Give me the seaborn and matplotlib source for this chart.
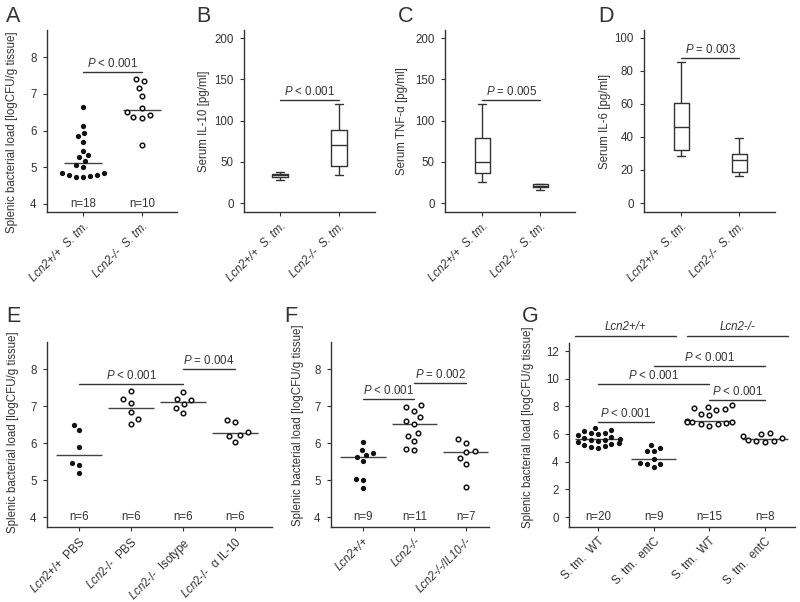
import numpy as np
import pandas as pd
import matplotlib
matplotlib.use("Agg")
import matplotlib.pyplot as plt
import seaborn as sns

sns.set_style("ticks")
plt.rcParams['font.family'] = ['Liberation Sans', 'DejaVu Sans']
plt.rcParams.update({
    'font.size': 8.3,
    'text.color': '#333333',
    'axes.labelcolor': '#333333',
    'axes.edgecolor': '#333333',
    'axes.linewidth': 1.0,
    'xtick.color': '#333333',
    'ytick.color': '#333333',
    'xtick.major.size': 3,
    'ytick.major.size': 3,
    'xtick.major.pad': 3,
    'ytick.major.pad': 4.5,
    'mathtext.fontset': 'custom',
    'mathtext.rm': 'Liberation Sans',
    'mathtext.it': 'Liberation Sans:italic',
})

INK = '#333333'
DOT = '#111111'
SPLENIC = 'Splenic bacterial load [logCFU/g tissue]'

# ---- A: splenic load, Lcn2+/+ vs Lcn2-/- ----
a_labels = ['Lcn2+/+  S. tm.', 'Lcn2-/-  S. tm.']
a_wt = [6.64, 6.12, 5.94, 5.84, 5.70, 5.45, 5.34, 5.27, 5.18, 5.06, 5.00,
        4.83, 4.83, 4.80, 4.79, 4.75, 4.73, 4.73]
a_ko = [7.40, 7.34, 7.16, 6.95, 6.61, 6.51, 6.43, 6.36, 6.35, 5.61]
a_n = ['n=18', 'n=10']

# ---- B-D: serum cytokines (min, q1, median, q3, max) ----
bd_labels = ['Lcn2+/+  S. tm.', 'Lcn2-/-  S. tm.']
il10_wt = [28.3, 31.5, 33.5, 35.6, 37.6]
il10_ko = [34.0, 44.8, 70.3, 88.0, 119.6]
tnf_wt = [25.9, 36.4, 49.7, 78.8, 119.6]
tnf_ko = [16.2, 19.0, 20.5, 22.5, 23.5]
il6_wt = [28.7, 31.9, 46.3, 60.4, 85.5]
il6_ko = [16.6, 18.6, 25.9, 29.7, 39.6]

# ---- E: IL-10 neutralisation ----
e_labels = [r'$\mathit{Lcn2}$+/+  PBS', r'$\mathit{Lcn2}$-/-  PBS',
            r'$\mathit{Lcn2}$-/-  Isotype', r'$\mathit{Lcn2}$-/-  α IL-10']
e_wt_pbs = [6.49, 6.35, 5.89, 5.45, 5.41, 5.20]
e_ko_pbs = [7.40, 7.19, 7.08, 6.83, 6.66, 6.51]
e_ko_iso = [7.38, 7.19, 7.15, 7.05, 6.94, 6.81]
e_ko_anti = [6.61, 6.56, 6.31, 6.22, 6.19, 6.04]
e_n = ['n=6', 'n=6', 'n=6', 'n=6']

# ---- F: IL10 double knockout ----
f_labels = ['Lcn2+/+', 'Lcn2-/-', 'Lcn2-/-/IL10-/-']
f_wt = [6.02, 5.82, 5.73, 5.68, 5.62, 5.52, 5.04, 5.00, 4.79]
f_ko = [7.02, 6.96, 6.87, 6.69, 6.60, 6.52, 6.26, 6.19, 6.05, 5.84, 5.80]
f_dko = [6.12, 6.00, 5.79, 5.77, 5.60, 5.44, 4.81]
f_n = ['n=9', 'n=11', 'n=7']

# ---- G: entC mutant ----
g_labels = ['S. tm.  WT', 'S. tm.  entC', 'S. tm.  WT', 'S. tm.  entC']
g_wt_wt = [6.45, 6.30, 6.20, 6.10, 6.05, 6.00, 5.90, 5.80, 5.70, 5.65,
           5.60, 5.55, 5.50, 5.40, 5.35, 5.30, 5.20, 5.10, 5.05, 5.00]
g_wt_ent = [5.20, 5.00, 4.80, 4.75, 4.20, 3.90, 3.85, 3.85, 3.65]
g_ko_wt = [8.10, 7.95, 7.85, 7.80, 7.75, 7.45, 7.35, 6.97,
           6.90, 6.85, 6.85, 6.80, 6.75, 6.70, 6.60]
g_ko_ent = [6.05, 6.00, 5.85, 5.70, 5.55, 5.50, 5.50, 5.45]
g_n = ['n=20', 'n=9', 'n=15', 'n=8']
g_groups = ['Lcn2+/+', 'Lcn2-/-']

# P-value brackets: (from, to, height, text)
a_p = [(0, 1, 7.59, '< 0.001')]
b_p = [(0, 1, 125.3, '< 0.001')]
c_p = [(0, 1, 124.4, '= 0.005')]
d_p = [(0, 1, 87.7, '= 0.003')]
e_p = [(0, 2, 7.59, '< 0.001'), (2, 3, 8.01, '= 0.004')]
f_p = [(0, 1, 7.18, '< 0.001'), (1, 2, 7.63, '= 0.002')]
g_p = [(0, 1, 6.84, '< 0.001'), (2, 3, 8.46, '< 0.001'),
       (0, 2, 9.62, '< 0.001'), (1, 3, 10.94, '< 0.001')]

W, H = 800, 602
fig = plt.figure(figsize=(8, 6.02), dpi=100)


def make_ax(l, r, t, b):
    return fig.add_axes([l / W, 1 - b / H, (r - l) / W, (b - t) / H])


def finish(ax, xlim, ylim, yticks, labels, ylabel, lab_x, lab_y, italic):
    sns.despine(ax=ax)
    ax.set_xlim(*xlim)
    ax.set_ylim(*ylim)
    ax.set_yticks(yticks)
    ax.set_xticks(range(len(labels)))
    ax.set_xticklabels(labels, rotation=45, ha='right', va='top',
                       rotation_mode='anchor',
                       fontstyle='italic' if italic else 'normal')
    ax.set_xlabel('')
    ax.set_ylabel(ylabel)
    ax.yaxis.set_label_coords(lab_x, lab_y)


def scatter(ax, values, filled, halfwidth, xlim, ylim):
    ids = [f'g{i}' for i in range(len(values))]
    df = pd.DataFrame({
        'group': np.repeat(ids, [len(v) for v in values]),
        'value': np.concatenate(values),
    })
    ax.set_xlim(*xlim)
    ax.set_ylim(*ylim)
    solid = [g for g, f in zip(ids, filled) if f]
    hollow = [g for g, f in zip(ids, filled) if not f]
    # swarm laid out with a slightly larger marker so columns spread like the original
    if solid:
        sns.swarmplot(data=df[df.group.isin(solid)], x='group', y='value',
                      order=ids, color=DOT, size=4.9, ax=ax)
    if hollow:
        sns.swarmplot(data=df[df.group.isin(hollow)], x='group', y='value',
                      order=ids, color='white', edgecolor=DOT, linewidth=1.1,
                      size=4.9, ax=ax)
    ax.set_xlim(*xlim)
    ax.set_ylim(*ylim)
    fig.canvas.draw()
    for c in ax.collections:
        if 'draw' in c.__dict__:
            del c.draw
            lw = c.get_linewidths()
            c.set_sizes([3.3 ** 2 if len(lw) and lw[0] > 0 else 3.8 ** 2])
    for i, v in enumerate(values):
        ax.hlines(np.median(v), i - halfwidth, i + halfwidth, color='#444444', lw=1, zorder=1)


def boxes(ax, values):
    ids = [f'g{i}' for i in range(len(values))]
    df = pd.DataFrame({
        'group': np.repeat(ids, [len(v) for v in values]),
        'value': np.concatenate(values),
    })
    sns.boxplot(data=df, x='group', y='value', order=ids, whis=(0, 100),
                width=0.26, fill=False, color=INK, linewidth=1, ax=ax)


def pvals(ax, brackets):
    for x1, x2, y, txt in brackets:
        ax.plot([x1, x2], [y, y], color=INK, lw=1, clip_on=False)
        ax.annotate(r'$P$ ' + txt, xy=((x1 + x2) / 2, y), xytext=(0, 1.5),
                    textcoords='offset points', ha='center', va='bottom',
                    annotation_clip=False)


def counts(ax, labels, y):
    for i, t in enumerate(labels):
        ax.text(i, y, t, ha='center', va='center')


def letter(x, y, s):
    fig.text(x / W, 1 - y / H, s, fontsize=15.5, ha='left', va='top', color=INK)


# A
ax = make_ax(47, 177, 30, 212)
xl, yl = (-0.61, 1.59), (3.78, 8.74)
scatter(ax, [a_wt, a_ko], [True, False], 0.32, xl, yl)
pvals(ax, a_p)
counts(ax, a_n, 4)
finish(ax, xl, yl, [4, 5, 6, 7, 8], a_labels, SPLENIC, (18.5 - 47) / 130, 0.437, True)
letter(6, 6, 'A')

# B
ax = make_ax(244, 375, 30, 212)
boxes(ax, [il10_wt, il10_ko])
pvals(ax, b_p)
finish(ax, (-0.61, 1.61), (-10.9, 209.7), [0, 50, 100, 150, 200], bd_labels,
       'Serum IL-10 [pg/ml]', (210 - 244) / 131, 0.5, True)
letter(196, 6, 'B')

# C
ax = make_ax(445, 575, 30, 212)
boxes(ax, [tnf_wt, tnf_ko])
pvals(ax, c_p)
finish(ax, (-0.64, 1.60), (-10.9, 209.7), [0, 50, 100, 150, 200], bd_labels,
       'Serum TNF-α [pg/ml]', (408 - 445) / 130, 0.5, True)
letter(398, 6, 'C')

# D
ax = make_ax(644, 775, 30, 212)
boxes(ax, [il6_wt, il6_ko])
pvals(ax, d_p)
finish(ax, (-0.64, 1.62), (-5.45, 104.8), [0, 20, 40, 60, 80, 100], bd_labels,
       'Serum IL-6 [pg/ml]', (611 - 644) / 131, 0.5, True)
letter(598, 6, 'D')

# E
ax = make_ax(47, 272, 342, 527)
xl, yl = (-0.615, 3.71), (3.73, 8.73)
scatter(ax, [e_wt_pbs, e_ko_pbs, e_ko_iso, e_ko_anti], [True, False, False, False], 0.45, xl, yl)
pvals(ax, e_p)
counts(ax, e_n, 4)
finish(ax, xl, yl, [4, 5, 6, 7, 8], e_labels, SPLENIC, (19 - 47) / 225, 0.515, False)
letter(6, 306, 'E')

# F
ax = make_ax(331, 489, 342, 527)
xl, yl = (-0.62, 2.45), (3.73, 8.73)
scatter(ax, [f_wt, f_ko, f_dko], [True, False, False], 0.44, xl, yl)
pvals(ax, f_p)
counts(ax, f_n, 4)
finish(ax, xl, yl, [4, 5, 6, 7, 8], f_labels, SPLENIC, (304 - 331) / 158, 0.553, True)
letter(284, 306, 'F')

# G
ax = make_ax(569, 795, 343, 527)
xl, yl = (-0.52, 3.54), (-0.72, 12.58)
scatter(ax, [g_wt_wt, g_wt_ent, g_ko_wt, g_ko_ent], [True, True, False, False], 0.41, xl, yl)
pvals(ax, g_p)
counts(ax, g_n, 0)
for (x1, x2), name in zip([(-0.41, 1.40), (1.60, 3.41)], g_groups):
    ax.plot([x1, x2], [13.09, 13.09], color=INK, lw=1, clip_on=False)
    ax.annotate(name, xy=((x1 + x2) / 2, 13.09), xytext=(0, 2), textcoords='offset points',
                ha='center', va='bottom', fontstyle='italic', annotation_clip=False)
finish(ax, xl, yl, [0, 2, 4, 6, 8, 10, 12], g_labels, SPLENIC, (533.5 - 569) / 226, 0.54, False)
letter(522, 306, 'G')

fig.savefig('out.png', dpi=100)
